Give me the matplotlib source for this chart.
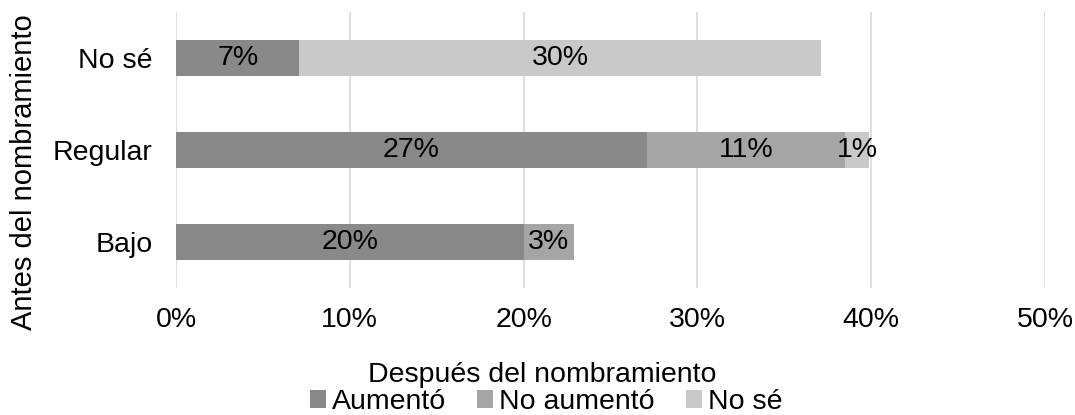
import matplotlib.pyplot as plt
import numpy as np

plt.rcParams['font.family'] = ['Liberation Sans', 'DejaVu Sans']

# Datos (porcentajes)
categorias = ['Bajo', 'Regular', 'No sé']
aumento = [20.0, 27.1, 7.1]
no_aumento = [2.9, 11.4, 0.0]
no_se = [0.0, 1.4, 30.0]
series = ['Aumentó', 'No aumentó', 'No sé']
colores = ['#898989', '#a5a5a5', '#c9c9c9']

FS = 20.5

fig = plt.figure(figsize=(10.75, 4.15), dpi=100)
ax = fig.add_axes([176 / 1075, 1 - 288 / 415, (1045 - 176) / 1075, 276 / 415])

y = np.arange(len(categorias))
izq = np.zeros(len(categorias))
for nombre, valores, color in zip(series, [aumento, no_aumento, no_se], colores):
    valores = np.array(valores)
    ax.barh(y, valores, left=izq, height=0.39, color=color, label=nombre, zorder=2)
    for yi, v, l in zip(y, valores, izq):
        if v > 0:
            ax.text(l + v / 2, yi, f'{v:.0f}%', ha='center', va='center',
                    fontsize=FS, color='black', zorder=3)
    izq += valores

ax.set_xlim(0, 50)
ax.set_ylim(-0.5, 2.5)
ax.set_xticks(range(0, 51, 10))
ax.set_xticklabels([f'{t}%' for t in range(0, 51, 10)])
ax.set_yticks(y)
ax.set_yticklabels(categorias)
ax.tick_params(axis='both', length=0, labelsize=FS, colors='#000000')
ax.tick_params(axis='x', pad=14)
ax.tick_params(axis='y', pad=17)
ax.grid(axis='x', color='#d9d9d9', linewidth=1.2, zorder=0)
for s in ax.spines.values():
    s.set_visible(False)

ax.set_xlabel('Después del nombramiento', fontsize=FS, va='center')
ax.xaxis.set_label_coords((542 - 176) / 869, (288 - 375) / 276)
ax.set_ylabel('Antes del nombramiento', fontsize=21)
ax.yaxis.set_label_coords((38 - 176) / 869, 0.42)

ax.legend(loc='center', bbox_to_anchor=(546 / 1075, 1 - 402 / 415), bbox_transform=fig.transFigure,
          ncol=3, frameon=False, fontsize=FS, handlelength=0.56, handleheight=0.56,
          handletextpad=0.21, columnspacing=1.09, borderaxespad=0, borderpad=0)

fig.savefig('out.png', dpi=100)
